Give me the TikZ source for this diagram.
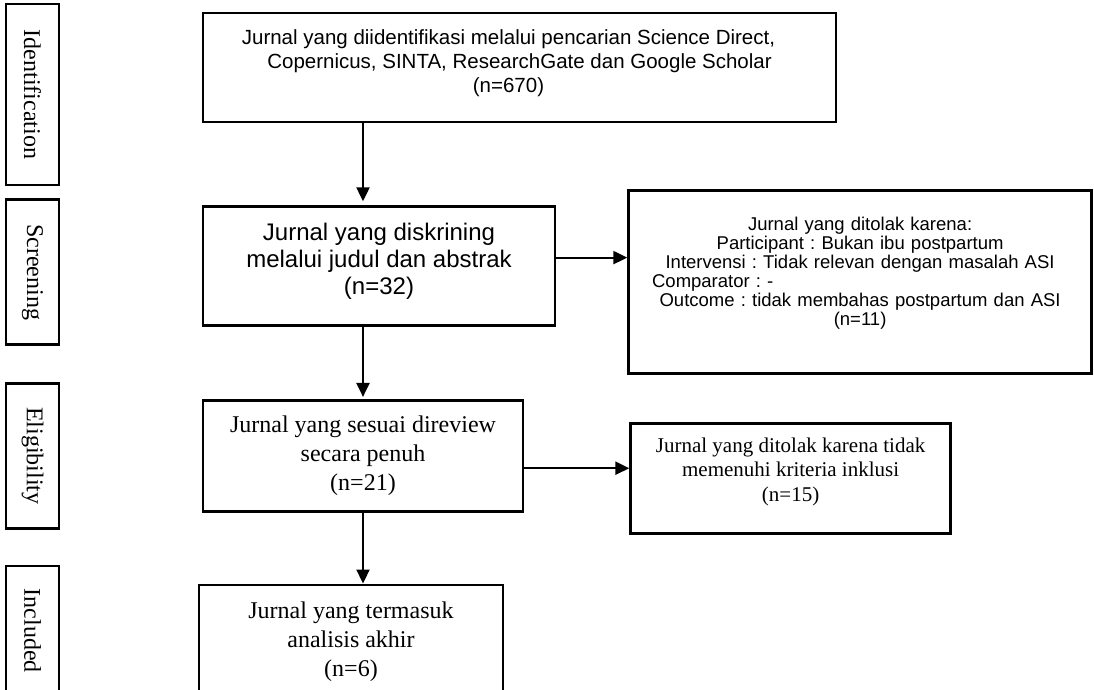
\documentclass[tikz,border=0pt]{standalone}
\usepackage{fontspec}
\setmainfont{Liberation Serif}
\setsansfont{Liberation Sans}
\usetikzlibrary{positioning,arrows.meta}
\newcommand{\lift}[1]{\rule[-#1]{0pt}{0pt}}
\frenchspacing

\begin{document}
\begin{tikzpicture}[x=1pt,y=-1pt,>={Triangle[length=14pt,width=13pt]}]
	\tikzstyle{phase}=[draw,line width=2.6pt,minimum width=53pt,inner sep=0pt,font=\fontsize{24}{28}\selectfont]
	\tikzstyle{jbox}=[draw,line width=2.6pt,align=center,inner sep=0pt]
	\useasboundingbox (0,0) rectangle (1094,689);
		\node[phase, minimum height=181pt] (sId) at (32.5,94.5) {\rotatebox{-90}{Identification}};
		\node[phase, minimum height=145pt, below=12pt of sId] (sScr) {\rotatebox{-90}{Screening}};
		\node[phase, minimum height=145pt, below=36pt of sScr] (sElig) {\rotatebox{-90}{Eligibility}};
		\node[phase, minimum height=130pt, below=35pt of sElig] (sIncl) {\rotatebox{-90}{Included}};
		\node[jbox, minimum width=633pt, minimum height=109pt, font=\sffamily\fontsize{20.5}{24}\selectfont] (top) at (519.5,67.5) {Jurnal yang diidentifikasi melalui pencarian Science Direct,\hspace*{22pt}\\Copernicus, SINTA, ResearchGate dan Google Scholar\hspace*{22pt}\\(n=670)\hspace*{22pt}\lift{13pt}};
		\node[jbox, minimum width=352pt, minimum height=119pt, font=\sffamily\fontsize{24}{27}\selectfont, below=82pt of top.south west, anchor=north west] (screen) {Jurnal yang diskrining\\melalui judul dan abstrak\\(n=32)\lift{15pt}};
		\node[jbox, minimum width=463pt, minimum height=183pt, text width=440pt, font=\sffamily\fontsize{18.5}{19}\selectfont, right=71pt of screen.north east, anchor=north west, yshift=16pt] (excl1) {Jurnal yang ditolak karena:\\Participant : Bukan ibu postpartum\\Intervensi : Tidak relevan dengan masalah ASI\\\makebox[416pt][l]{Comparator : -}\\Outcome : tidak membahas postpartum dan ASI\\(n=11)\lift{21pt}};
		\node[jbox, minimum width=320pt, minimum height=111pt, font=\fontsize{24}{29}\selectfont, below=72pt of screen.south west, anchor=north west] (elig) {Jurnal yang sesuai direview\\secara penuh\\(n=21)};
		\node[jbox, minimum width=320pt, minimum height=110pt, font=\fontsize{21}{24.5}\selectfont, right=105pt of elig.north east, anchor=north west, yshift=-23pt] (excl2) {Jurnal yang ditolak karena tidak\\memenuhi kriteria inklusi\\(n=15)\lift{17pt}};
		\node[jbox, minimum width=304pt, minimum height=113pt, font=\fontsize{24}{29}\selectfont, below=71pt of elig.south west, anchor=north west, xshift=-4pt] (incl) {Jurnal yang termasuk\\analisis akhir\\(n=6)};
			\draw[->, line width=2.2pt, shorten >=4pt] (top.south -| elig.north) -- (screen.north -| elig.north);
			\draw[->, line width=2.2pt] ([yshift=8.5pt]screen.east) -- ([yshift=8.5pt]screen.east -| excl1.west);
			\draw[->, line width=2.2pt, shorten >=2pt] (screen.south -| elig.north) -- (elig.north);
			\draw[->, line width=2.2pt] ([yshift=-12.5pt]elig.east) -- ([yshift=-12.5pt]elig.east -| excl2.west);
			\draw[->, line width=2.2pt] (elig.south) -- (incl.north -| elig.south);
\end{tikzpicture}
\end{document}
